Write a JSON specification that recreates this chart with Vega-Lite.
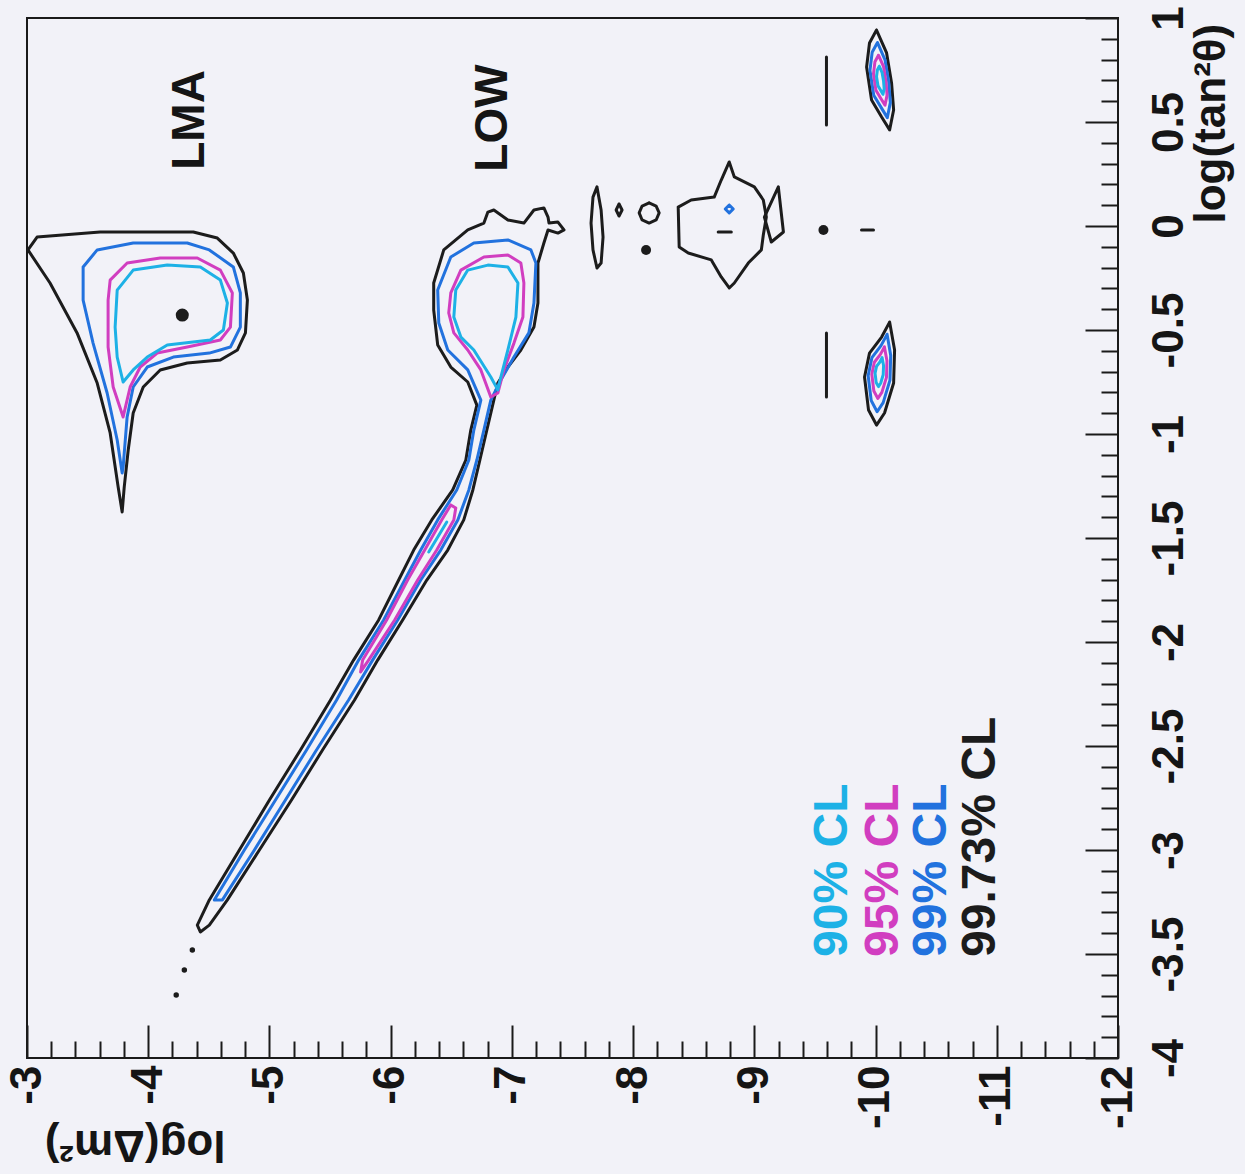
{
"$schema": "https://vega.github.io/schema/vega-lite/v6.json",
"width": 1091, "height": 1040,
"autosize": {"type": "none"},
"padding": {"left": 27, "top": 18, "right": 127, "bottom": 116},
"background": "#F2F2F8",
"config": {"view": {"stroke": "#1a1a1a", "strokeWidth": 2, "fill": "#F2F2F8"}},
"datasets": {
"c": [
{"id":"lma4","lv":"99.73","o":0,"m":-3.008,"t":-0.115},{"id":"lma4","lv":"99.73","o":1,"m":-3.083,"t":-0.053},{"id":"lma4","lv":"99.73","o":2,"m":-3.603,"t":-0.029},{"id":"lma4","lv":"99.73","o":3,"m":-4.372,"t":-0.029},{"id":"lma4","lv":"99.73","o":4,"m":-4.570,"t":-0.058},{"id":"lma4","lv":"99.73","o":5,"m":-4.702,"t":-0.130},{"id":"lma4","lv":"99.73","o":6,"m":-4.785,"t":-0.226},{"id":"lma4","lv":"99.73","o":7,"m":-4.818,"t":-0.356},{"id":"lma4","lv":"99.73","o":8,"m":-4.802,"t":-0.514},{"id":"lma4","lv":"99.73","o":9,"m":-4.736,"t":-0.596},{"id":"lma4","lv":"99.73","o":10,"m":-4.595,"t":-0.644},{"id":"lma4","lv":"99.73","o":11,"m":-4.322,"t":-0.659},{"id":"lma4","lv":"99.73","o":12,"m":-4.099,"t":-0.692},{"id":"lma4","lv":"99.73","o":13,"m":-3.959,"t":-0.774},{"id":"lma4","lv":"99.73","o":14,"m":-3.876,"t":-0.899},{"id":"lma4","lv":"99.73","o":15,"m":-3.835,"t":-1.077},{"id":"lma4","lv":"99.73","o":16,"m":-3.802,"t":-1.255},{"id":"lma4","lv":"99.73","o":17,"m":-3.785,"t":-1.375},{"id":"lma4","lv":"99.73","o":18,"m":-3.752,"t":-1.255},{"id":"lma4","lv":"99.73","o":19,"m":-3.686,"t":-0.995},{"id":"lma4","lv":"99.73","o":20,"m":-3.579,"t":-0.755},{"id":"lma4","lv":"99.73","o":21,"m":-3.413,"t":-0.514},{"id":"lma4","lv":"99.73","o":22,"m":-3.190,"t":-0.274},{"id":"lma4","lv":"99.73","o":23,"m":-3.008,"t":-0.115},
{"id":"lma3","lv":"99","o":0,"m":-3.463,"t":-0.197},{"id":"lma3","lv":"99","o":1,"m":-3.579,"t":-0.115},{"id":"lma3","lv":"99","o":2,"m":-3.876,"t":-0.082},{"id":"lma3","lv":"99","o":3,"m":-4.322,"t":-0.082},{"id":"lma3","lv":"99","o":4,"m":-4.504,"t":-0.115},{"id":"lma3","lv":"99","o":5,"m":-4.702,"t":-0.197},{"id":"lma3","lv":"99","o":6,"m":-4.760,"t":-0.322},{"id":"lma3","lv":"99","o":7,"m":-4.760,"t":-0.486},{"id":"lma3","lv":"99","o":8,"m":-4.678,"t":-0.582},{"id":"lma3","lv":"99","o":9,"m":-4.504,"t":-0.611},{"id":"lma3","lv":"99","o":10,"m":-4.207,"t":-0.630},{"id":"lma3","lv":"99","o":11,"m":-3.992,"t":-0.678},{"id":"lma3","lv":"99","o":12,"m":-3.876,"t":-0.774},{"id":"lma3","lv":"99","o":13,"m":-3.826,"t":-0.918},{"id":"lma3","lv":"99","o":14,"m":-3.793,"t":-1.159},{"id":"lma3","lv":"99","o":15,"m":-3.785,"t":-1.188},{"id":"lma3","lv":"99","o":16,"m":-3.744,"t":-1.029},{"id":"lma3","lv":"99","o":17,"m":-3.661,"t":-0.803},{"id":"lma3","lv":"99","o":18,"m":-3.545,"t":-0.563},{"id":"lma3","lv":"99","o":19,"m":-3.463,"t":-0.356},{"id":"lma3","lv":"99","o":20,"m":-3.463,"t":-0.197},
{"id":"lma2","lv":"95","o":0,"m":-3.686,"t":-0.260},{"id":"lma2","lv":"95","o":1,"m":-3.826,"t":-0.178},{"id":"lma2","lv":"95","o":2,"m":-4.099,"t":-0.154},{"id":"lma2","lv":"95","o":3,"m":-4.405,"t":-0.154},{"id":"lma2","lv":"95","o":4,"m":-4.595,"t":-0.212},{"id":"lma2","lv":"95","o":5,"m":-4.694,"t":-0.322},{"id":"lma2","lv":"95","o":6,"m":-4.678,"t":-0.486},{"id":"lma2","lv":"95","o":7,"m":-4.595,"t":-0.548},{"id":"lma2","lv":"95","o":8,"m":-4.322,"t":-0.582},{"id":"lma2","lv":"95","o":9,"m":-4.074,"t":-0.611},{"id":"lma2","lv":"95","o":10,"m":-3.934,"t":-0.678},{"id":"lma2","lv":"95","o":11,"m":-3.851,"t":-0.774},{"id":"lma2","lv":"95","o":12,"m":-3.793,"t":-0.918},{"id":"lma2","lv":"95","o":13,"m":-3.711,"t":-0.774},{"id":"lma2","lv":"95","o":14,"m":-3.669,"t":-0.582},{"id":"lma2","lv":"95","o":15,"m":-3.669,"t":-0.356},{"id":"lma2","lv":"95","o":16,"m":-3.686,"t":-0.260},
{"id":"lma1","lv":"90","o":0,"m":-3.744,"t":-0.308},{"id":"lma1","lv":"90","o":1,"m":-3.876,"t":-0.212},{"id":"lma1","lv":"90","o":2,"m":-4.157,"t":-0.188},{"id":"lma1","lv":"90","o":3,"m":-4.430,"t":-0.197},{"id":"lma1","lv":"90","o":4,"m":-4.595,"t":-0.260},{"id":"lma1","lv":"90","o":5,"m":-4.653,"t":-0.370},{"id":"lma1","lv":"90","o":6,"m":-4.620,"t":-0.500},{"id":"lma1","lv":"90","o":7,"m":-4.512,"t":-0.548},{"id":"lma1","lv":"90","o":8,"m":-4.157,"t":-0.572},{"id":"lma1","lv":"90","o":9,"m":-3.992,"t":-0.630},{"id":"lma1","lv":"90","o":10,"m":-3.876,"t":-0.692},{"id":"lma1","lv":"90","o":11,"m":-3.793,"t":-0.750},{"id":"lma1","lv":"90","o":12,"m":-3.744,"t":-0.630},{"id":"lma1","lv":"90","o":13,"m":-3.727,"t":-0.486},{"id":"lma1","lv":"90","o":14,"m":-3.744,"t":-0.308},
{"id":"low4","lv":"99.73","o":0,"m":-6.355,"t":-0.274},{"id":"low4","lv":"99.73","o":1,"m":-6.438,"t":-0.115},{"id":"low4","lv":"99.73","o":2,"m":-6.636,"t":-0.019},{"id":"low4","lv":"99.73","o":3,"m":-6.769,"t":0.014},{"id":"low4","lv":"99.73","o":4,"m":-6.802,"t":0.067},{"id":"low4","lv":"99.73","o":5,"m":-6.851,"t":0.077},{"id":"low4","lv":"99.73","o":6,"m":-6.967,"t":0.029},{"id":"low4","lv":"99.73","o":7,"m":-7.099,"t":0.014},{"id":"low4","lv":"99.73","o":8,"m":-7.182,"t":0.077},{"id":"low4","lv":"99.73","o":9,"m":-7.264,"t":0.087},{"id":"low4","lv":"99.73","o":10,"m":-7.298,"t":0.043},{"id":"low4","lv":"99.73","o":11,"m":-7.306,"t":0.014},{"id":"low4","lv":"99.73","o":12,"m":-7.380,"t":0.019},{"id":"low4","lv":"99.73","o":13,"m":-7.430,"t":-0.019},{"id":"low4","lv":"99.73","o":14,"m":-7.380,"t":-0.034},{"id":"low4","lv":"99.73","o":15,"m":-7.298,"t":-0.019},{"id":"low4","lv":"99.73","o":16,"m":-7.264,"t":-0.082},{"id":"low4","lv":"99.73","o":17,"m":-7.215,"t":-0.178},{"id":"low4","lv":"99.73","o":18,"m":-7.215,"t":-0.370},{"id":"low4","lv":"99.73","o":19,"m":-7.182,"t":-0.486},{"id":"low4","lv":"99.73","o":20,"m":-7.074,"t":-0.596},{"id":"low4","lv":"99.73","o":21,"m":-6.967,"t":-0.678},{"id":"low4","lv":"99.73","o":22,"m":-6.884,"t":-0.755},{"id":"low4","lv":"99.73","o":23,"m":-6.851,"t":-0.837},{"id":"low4","lv":"99.73","o":24,"m":-6.793,"t":-0.981},{"id":"low4","lv":"99.73","o":25,"m":-6.736,"t":-1.125},{"id":"low4","lv":"99.73","o":26,"m":-6.678,"t":-1.269},{"id":"low4","lv":"99.73","o":27,"m":-6.603,"t":-1.413},{"id":"low4","lv":"99.73","o":28,"m":-6.471,"t":-1.558},{"id":"low4","lv":"99.73","o":29,"m":-6.298,"t":-1.702},{"id":"low4","lv":"99.73","o":30,"m":-6.099,"t":-1.894},{"id":"low4","lv":"99.73","o":31,"m":-5.893,"t":-2.087},{"id":"low4","lv":"99.73","o":32,"m":-5.702,"t":-2.279},{"id":"low4","lv":"99.73","o":33,"m":-5.438,"t":-2.519},{"id":"low4","lv":"99.73","o":34,"m":-5.182,"t":-2.760},{"id":"low4","lv":"99.73","o":35,"m":-4.917,"t":-3.000},{"id":"low4","lv":"99.73","o":36,"m":-4.653,"t":-3.240},{"id":"low4","lv":"99.73","o":37,"m":-4.504,"t":-3.361},{"id":"low4","lv":"99.73","o":38,"m":-4.430,"t":-3.394},{"id":"low4","lv":"99.73","o":39,"m":-4.405,"t":-3.361},{"id":"low4","lv":"99.73","o":40,"m":-4.504,"t":-3.240},{"id":"low4","lv":"99.73","o":41,"m":-4.752,"t":-3.000},{"id":"low4","lv":"99.73","o":42,"m":-5.000,"t":-2.760},{"id":"low4","lv":"99.73","o":43,"m":-5.256,"t":-2.519},{"id":"low4","lv":"99.73","o":44,"m":-5.504,"t":-2.279},{"id":"low4","lv":"99.73","o":45,"m":-5.694,"t":-2.087},{"id":"low4","lv":"99.73","o":46,"m":-5.901,"t":-1.894},{"id":"low4","lv":"99.73","o":47,"m":-6.066,"t":-1.702},{"id":"low4","lv":"99.73","o":48,"m":-6.190,"t":-1.558},{"id":"low4","lv":"99.73","o":49,"m":-6.339,"t":-1.413},{"id":"low4","lv":"99.73","o":50,"m":-6.512,"t":-1.269},{"id":"low4","lv":"99.73","o":51,"m":-6.620,"t":-1.125},{"id":"low4","lv":"99.73","o":52,"m":-6.661,"t":-0.981},{"id":"low4","lv":"99.73","o":53,"m":-6.711,"t":-0.861},{"id":"low4","lv":"99.73","o":54,"m":-6.636,"t":-0.750},{"id":"low4","lv":"99.73","o":55,"m":-6.496,"t":-0.678},{"id":"low4","lv":"99.73","o":56,"m":-6.388,"t":-0.572},{"id":"low4","lv":"99.73","o":57,"m":-6.355,"t":-0.404},{"id":"low4","lv":"99.73","o":58,"m":-6.355,"t":-0.274},
{"id":"low3","lv":"99","o":0,"m":-6.388,"t":-0.308},{"id":"low3","lv":"99","o":1,"m":-6.496,"t":-0.149},{"id":"low3","lv":"99","o":2,"m":-6.686,"t":-0.082},{"id":"low3","lv":"99","o":3,"m":-6.967,"t":-0.067},{"id":"low3","lv":"99","o":4,"m":-7.157,"t":-0.115},{"id":"low3","lv":"99","o":5,"m":-7.198,"t":-0.178},{"id":"low3","lv":"99","o":6,"m":-7.182,"t":-0.370},{"id":"low3","lv":"99","o":7,"m":-7.140,"t":-0.514},{"id":"low3","lv":"99","o":8,"m":-7.017,"t":-0.630},{"id":"low3","lv":"99","o":9,"m":-6.909,"t":-0.740},{"id":"low3","lv":"99","o":10,"m":-6.826,"t":-0.837},{"id":"low3","lv":"99","o":11,"m":-6.769,"t":-0.981},{"id":"low3","lv":"99","o":12,"m":-6.711,"t":-1.125},{"id":"low3","lv":"99","o":13,"m":-6.645,"t":-1.269},{"id":"low3","lv":"99","o":14,"m":-6.554,"t":-1.413},{"id":"low3","lv":"99","o":15,"m":-6.413,"t":-1.558},{"id":"low3","lv":"99","o":16,"m":-6.248,"t":-1.702},{"id":"low3","lv":"99","o":17,"m":-6.058,"t":-1.894},{"id":"low3","lv":"99","o":18,"m":-5.851,"t":-2.087},{"id":"low3","lv":"99","o":19,"m":-5.653,"t":-2.279},{"id":"low3","lv":"99","o":20,"m":-5.388,"t":-2.519},{"id":"low3","lv":"99","o":21,"m":-5.132,"t":-2.760},{"id":"low3","lv":"99","o":22,"m":-4.876,"t":-3.000},{"id":"low3","lv":"99","o":23,"m":-4.612,"t":-3.240},{"id":"low3","lv":"99","o":24,"m":-4.545,"t":-3.240},{"id":"low3","lv":"99","o":25,"m":-4.793,"t":-3.000},{"id":"low3","lv":"99","o":26,"m":-5.050,"t":-2.760},{"id":"low3","lv":"99","o":27,"m":-5.306,"t":-2.519},{"id":"low3","lv":"99","o":28,"m":-5.554,"t":-2.279},{"id":"low3","lv":"99","o":29,"m":-5.736,"t":-2.087},{"id":"low3","lv":"99","o":30,"m":-5.942,"t":-1.894},{"id":"low3","lv":"99","o":31,"m":-6.116,"t":-1.702},{"id":"low3","lv":"99","o":32,"m":-6.248,"t":-1.558},{"id":"low3","lv":"99","o":33,"m":-6.388,"t":-1.413},{"id":"low3","lv":"99","o":34,"m":-6.545,"t":-1.269},{"id":"low3","lv":"99","o":35,"m":-6.645,"t":-1.125},{"id":"low3","lv":"99","o":36,"m":-6.686,"t":-0.981},{"id":"low3","lv":"99","o":37,"m":-6.744,"t":-0.837},{"id":"low3","lv":"99","o":38,"m":-6.636,"t":-0.692},{"id":"low3","lv":"99","o":39,"m":-6.471,"t":-0.596},{"id":"low3","lv":"99","o":40,"m":-6.397,"t":-0.466},{"id":"low3","lv":"99","o":41,"m":-6.388,"t":-0.308},
{"id":"low2","lv":"95","o":0,"m":-6.496,"t":-0.322},{"id":"low2","lv":"95","o":1,"m":-6.579,"t":-0.212},{"id":"low2","lv":"95","o":2,"m":-6.769,"t":-0.149},{"id":"low2","lv":"95","o":3,"m":-6.967,"t":-0.139},{"id":"low2","lv":"95","o":4,"m":-7.074,"t":-0.178},{"id":"low2","lv":"95","o":5,"m":-7.099,"t":-0.274},{"id":"low2","lv":"95","o":6,"m":-7.091,"t":-0.438},{"id":"low2","lv":"95","o":7,"m":-7.017,"t":-0.563},{"id":"low2","lv":"95","o":8,"m":-6.934,"t":-0.692},{"id":"low2","lv":"95","o":9,"m":-6.884,"t":-0.803},{"id":"low2","lv":"95","o":10,"m":-6.826,"t":-0.822},{"id":"low2","lv":"95","o":11,"m":-6.744,"t":-0.692},{"id":"low2","lv":"95","o":12,"m":-6.636,"t":-0.596},{"id":"low2","lv":"95","o":13,"m":-6.521,"t":-0.514},{"id":"low2","lv":"95","o":14,"m":-6.479,"t":-0.418},{"id":"low2","lv":"95","o":15,"m":-6.496,"t":-0.322},
{"id":"lowb2","lv":"95","o":0,"m":-6.537,"t":-1.356},{"id":"lowb2","lv":"95","o":1,"m":-6.521,"t":-1.413},{"id":"lowb2","lv":"95","o":2,"m":-6.380,"t":-1.558},{"id":"lowb2","lv":"95","o":3,"m":-6.223,"t":-1.702},{"id":"lowb2","lv":"95","o":4,"m":-6.033,"t":-1.894},{"id":"lowb2","lv":"95","o":5,"m":-5.818,"t":-2.087},{"id":"lowb2","lv":"95","o":6,"m":-5.752,"t":-2.144},{"id":"lowb2","lv":"95","o":7,"m":-5.769,"t":-2.087},{"id":"lowb2","lv":"95","o":8,"m":-5.967,"t":-1.894},{"id":"lowb2","lv":"95","o":9,"m":-6.140,"t":-1.702},{"id":"lowb2","lv":"95","o":10,"m":-6.281,"t":-1.558},{"id":"lowb2","lv":"95","o":11,"m":-6.421,"t":-1.413},{"id":"lowb2","lv":"95","o":12,"m":-6.496,"t":-1.341},{"id":"lowb2","lv":"95","o":13,"m":-6.537,"t":-1.356},
{"id":"low1","lv":"90","o":0,"m":-6.537,"t":-0.308},{"id":"low1","lv":"90","o":1,"m":-6.636,"t":-0.212},{"id":"low1","lv":"90","o":2,"m":-6.802,"t":-0.188},{"id":"low1","lv":"90","o":3,"m":-6.967,"t":-0.197},{"id":"low1","lv":"90","o":4,"m":-7.050,"t":-0.274},{"id":"low1","lv":"90","o":5,"m":-7.033,"t":-0.438},{"id":"low1","lv":"90","o":6,"m":-6.967,"t":-0.596},{"id":"low1","lv":"90","o":7,"m":-6.909,"t":-0.726},{"id":"low1","lv":"90","o":8,"m":-6.884,"t":-0.788},{"id":"low1","lv":"90","o":9,"m":-6.826,"t":-0.726},{"id":"low1","lv":"90","o":10,"m":-6.686,"t":-0.596},{"id":"low1","lv":"90","o":11,"m":-6.579,"t":-0.534},{"id":"low1","lv":"90","o":12,"m":-6.521,"t":-0.438},{"id":"low1","lv":"90","o":13,"m":-6.537,"t":-0.308},
{"id":"lowc","lv":"90","o":0,"m":-6.463,"t":-1.423},{"id":"lowc","lv":"90","o":1,"m":-6.314,"t":-1.567},
{"id":"is1","lv":"99.73","o":0,"m":-7.702,"t":0.188},{"id":"is1","lv":"99.73","o":1,"m":-7.736,"t":0.077},{"id":"is1","lv":"99.73","o":2,"m":-7.752,"t":-0.053},{"id":"is1","lv":"99.73","o":3,"m":-7.736,"t":-0.178},{"id":"is1","lv":"99.73","o":4,"m":-7.702,"t":-0.202},{"id":"is1","lv":"99.73","o":5,"m":-7.669,"t":-0.115},{"id":"is1","lv":"99.73","o":6,"m":-7.653,"t":0.014},{"id":"is1","lv":"99.73","o":7,"m":-7.669,"t":0.139},{"id":"is1","lv":"99.73","o":8,"m":-7.702,"t":0.188},
{"id":"is2","lv":"99.73","o":0,"m":-7.884,"t":0.106},{"id":"is2","lv":"99.73","o":1,"m":-7.909,"t":0.077},{"id":"is2","lv":"99.73","o":2,"m":-7.884,"t":0.048},{"id":"is2","lv":"99.73","o":3,"m":-7.860,"t":0.077},{"id":"is2","lv":"99.73","o":4,"m":-7.884,"t":0.106},
{"id":"is3","lv":"99.73","o":0,"m":-8.132,"t":0.111},{"id":"is3","lv":"99.73","o":1,"m":-8.190,"t":0.096},{"id":"is3","lv":"99.73","o":2,"m":-8.215,"t":0.063},{"id":"is3","lv":"99.73","o":3,"m":-8.190,"t":0.029},{"id":"is3","lv":"99.73","o":4,"m":-8.132,"t":0.014},{"id":"is3","lv":"99.73","o":5,"m":-8.074,"t":0.029},{"id":"is3","lv":"99.73","o":6,"m":-8.050,"t":0.063},{"id":"is3","lv":"99.73","o":7,"m":-8.074,"t":0.096},{"id":"is3","lv":"99.73","o":8,"m":-8.132,"t":0.111},
{"id":"blob","lv":"99.73","o":0,"m":-8.372,"t":0.091},{"id":"blob","lv":"99.73","o":1,"m":-8.479,"t":0.125},{"id":"blob","lv":"99.73","o":2,"m":-8.669,"t":0.139},{"id":"blob","lv":"99.73","o":3,"m":-8.727,"t":0.221},{"id":"blob","lv":"99.73","o":4,"m":-8.793,"t":0.308},{"id":"blob","lv":"99.73","o":5,"m":-8.835,"t":0.236},{"id":"blob","lv":"99.73","o":6,"m":-9.000,"t":0.188},{"id":"blob","lv":"99.73","o":7,"m":-9.074,"t":0.125},{"id":"blob","lv":"99.73","o":8,"m":-9.099,"t":0.043},{"id":"blob","lv":"99.73","o":9,"m":-9.074,"t":-0.043},{"id":"blob","lv":"99.73","o":10,"m":-9.058,"t":-0.115},{"id":"blob","lv":"99.73","o":11,"m":-8.950,"t":-0.178},{"id":"blob","lv":"99.73","o":12,"m":-8.835,"t":-0.274},{"id":"blob","lv":"99.73","o":13,"m":-8.793,"t":-0.298},{"id":"blob","lv":"99.73","o":14,"m":-8.727,"t":-0.245},{"id":"blob","lv":"99.73","o":15,"m":-8.645,"t":-0.163},{"id":"blob","lv":"99.73","o":16,"m":-8.455,"t":-0.130},{"id":"blob","lv":"99.73","o":17,"m":-8.380,"t":-0.101},{"id":"blob","lv":"99.73","o":18,"m":-8.372,"t":0.091},
{"id":"tie","lv":"99.73","o":0,"m":-9.198,"t":0.188},{"id":"tie","lv":"99.73","o":1,"m":-9.240,"t":-0.029},{"id":"tie","lv":"99.73","o":2,"m":-9.140,"t":-0.077},{"id":"tie","lv":"99.73","o":3,"m":-9.083,"t":0.043},{"id":"tie","lv":"99.73","o":4,"m":-9.198,"t":0.188},
{"id":"bc","lv":"99","o":0,"m":-8.793,"t":0.101},{"id":"bc","lv":"99","o":1,"m":-8.826,"t":0.082},{"id":"bc","lv":"99","o":2,"m":-8.793,"t":0.063},{"id":"bc","lv":"99","o":3,"m":-8.760,"t":0.082},{"id":"bc","lv":"99","o":4,"m":-8.793,"t":0.101},
{"id":"bd","lv":"99.73","o":0,"m":-8.702,"t":-0.029},{"id":"bd","lv":"99.73","o":1,"m":-8.810,"t":-0.029},
{"id":"vl1","lv":"99.73","o":0,"m":-9.595,"t":0.813},{"id":"vl1","lv":"99.73","o":1,"m":-9.595,"t":0.486},
{"id":"vl2","lv":"99.73","o":0,"m":-9.595,"t":-0.514},{"id":"vl2","lv":"99.73","o":1,"m":-9.595,"t":-0.822},
{"id":"dsh","lv":"99.73","o":0,"m":-9.884,"t":-0.019},{"id":"dsh","lv":"99.73","o":1,"m":-9.983,"t":-0.019},
{"id":"tr4","lv":"99.73","o":0,"m":-10.008,"t":0.942},{"id":"tr4","lv":"99.73","o":1,"m":-10.091,"t":0.832},{"id":"tr4","lv":"99.73","o":2,"m":-10.132,"t":0.688},{"id":"tr4","lv":"99.73","o":3,"m":-10.149,"t":0.558},{"id":"tr4","lv":"99.73","o":4,"m":-10.116,"t":0.462},{"id":"tr4","lv":"99.73","o":5,"m":-10.050,"t":0.524},{"id":"tr4","lv":"99.73","o":6,"m":-9.967,"t":0.606},{"id":"tr4","lv":"99.73","o":7,"m":-9.926,"t":0.764},{"id":"tr4","lv":"99.73","o":8,"m":-9.950,"t":0.880},{"id":"tr4","lv":"99.73","o":9,"m":-10.008,"t":0.942},
{"id":"tr3","lv":"99","o":0,"m":-10.016,"t":0.882},{"id":"tr3","lv":"99","o":1,"m":-10.078,"t":0.799},{"id":"tr3","lv":"99","o":2,"m":-10.109,"t":0.691},{"id":"tr3","lv":"99","o":3,"m":-10.122,"t":0.593},{"id":"tr3","lv":"99","o":4,"m":-10.097,"t":0.521},{"id":"tr3","lv":"99","o":5,"m":-10.048,"t":0.568},{"id":"tr3","lv":"99","o":6,"m":-9.985,"t":0.629},{"id":"tr3","lv":"99","o":7,"m":-9.954,"t":0.748},{"id":"tr3","lv":"99","o":8,"m":-9.972,"t":0.835},{"id":"tr3","lv":"99","o":9,"m":-10.016,"t":0.882},
{"id":"tr2","lv":"95","o":0,"m":-10.024,"t":0.821},{"id":"tr2","lv":"95","o":1,"m":-10.066,"t":0.766},{"id":"tr2","lv":"95","o":2,"m":-10.086,"t":0.694},{"id":"tr2","lv":"95","o":3,"m":-10.095,"t":0.629},{"id":"tr2","lv":"95","o":4,"m":-10.078,"t":0.581},{"id":"tr2","lv":"95","o":5,"m":-10.045,"t":0.612},{"id":"tr2","lv":"95","o":6,"m":-10.003,"t":0.653},{"id":"tr2","lv":"95","o":7,"m":-9.983,"t":0.732},{"id":"tr2","lv":"95","o":8,"m":-9.995,"t":0.790},{"id":"tr2","lv":"95","o":9,"m":-10.024,"t":0.821},
{"id":"tr1","lv":"90","o":0,"m":-10.031,"t":0.768},{"id":"tr1","lv":"90","o":1,"m":-10.054,"t":0.737},{"id":"tr1","lv":"90","o":2,"m":-10.066,"t":0.697},{"id":"tr1","lv":"90","o":3,"m":-10.071,"t":0.660},{"id":"tr1","lv":"90","o":4,"m":-10.061,"t":0.633},{"id":"tr1","lv":"90","o":5,"m":-10.043,"t":0.651},{"id":"tr1","lv":"90","o":6,"m":-10.020,"t":0.674},{"id":"tr1","lv":"90","o":7,"m":-10.008,"t":0.718},{"id":"tr1","lv":"90","o":8,"m":-10.015,"t":0.750},{"id":"tr1","lv":"90","o":9,"m":-10.031,"t":0.768},
{"id":"br4","lv":"99.73","o":0,"m":-10.116,"t":-0.462},{"id":"br4","lv":"99.73","o":1,"m":-10.157,"t":-0.596},{"id":"br4","lv":"99.73","o":2,"m":-10.149,"t":-0.755},{"id":"br4","lv":"99.73","o":3,"m":-10.074,"t":-0.899},{"id":"br4","lv":"99.73","o":4,"m":-10.008,"t":-0.957},{"id":"br4","lv":"99.73","o":5,"m":-9.942,"t":-0.885},{"id":"br4","lv":"99.73","o":6,"m":-9.909,"t":-0.726},{"id":"br4","lv":"99.73","o":7,"m":-9.950,"t":-0.611},{"id":"br4","lv":"99.73","o":8,"m":-10.050,"t":-0.534},{"id":"br4","lv":"99.73","o":9,"m":-10.116,"t":-0.462},
{"id":"br3","lv":"99","o":0,"m":-10.095,"t":-0.521},{"id":"br3","lv":"99","o":1,"m":-10.125,"t":-0.622},{"id":"br3","lv":"99","o":2,"m":-10.119,"t":-0.741},{"id":"br3","lv":"99","o":3,"m":-10.063,"t":-0.849},{"id":"br3","lv":"99","o":4,"m":-10.013,"t":-0.893},{"id":"br3","lv":"99","o":5,"m":-9.964,"t":-0.839},{"id":"br3","lv":"99","o":6,"m":-9.939,"t":-0.720},{"id":"br3","lv":"99","o":7,"m":-9.970,"t":-0.633},{"id":"br3","lv":"99","o":8,"m":-10.045,"t":-0.575},{"id":"br3","lv":"99","o":9,"m":-10.095,"t":-0.521},
{"id":"br2","lv":"95","o":0,"m":-10.073,"t":-0.581},{"id":"br2","lv":"95","o":1,"m":-10.094,"t":-0.648},{"id":"br2","lv":"95","o":2,"m":-10.090,"t":-0.728},{"id":"br2","lv":"95","o":3,"m":-10.052,"t":-0.800},{"id":"br2","lv":"95","o":4,"m":-10.019,"t":-0.829},{"id":"br2","lv":"95","o":5,"m":-9.986,"t":-0.793},{"id":"br2","lv":"95","o":6,"m":-9.969,"t":-0.713},{"id":"br2","lv":"95","o":7,"m":-9.990,"t":-0.655},{"id":"br2","lv":"95","o":8,"m":-10.040,"t":-0.617},{"id":"br2","lv":"95","o":9,"m":-10.073,"t":-0.581},
{"id":"br1","lv":"90","o":0,"m":-10.054,"t":-0.633},{"id":"br1","lv":"90","o":1,"m":-10.066,"t":-0.671},{"id":"br1","lv":"90","o":2,"m":-10.063,"t":-0.715},{"id":"br1","lv":"90","o":3,"m":-10.042,"t":-0.756},{"id":"br1","lv":"90","o":4,"m":-10.024,"t":-0.772},{"id":"br1","lv":"90","o":5,"m":-10.005,"t":-0.752},{"id":"br1","lv":"90","o":6,"m":-9.996,"t":-0.707},{"id":"br1","lv":"90","o":7,"m":-10.008,"t":-0.675},{"id":"br1","lv":"90","o":8,"m":-10.036,"t":-0.654},{"id":"br1","lv":"90","o":9,"m":-10.054,"t":-0.633}
],
"p": [
{"k":"best","m":-4.281,"t":-0.428},
{"k":"med","m":-8.107,"t":-0.115},
{"k":"med","m":-9.570,"t":-0.019},
{"k":"small","m":-4.364,"t":-3.481},
{"k":"small","m":-4.298,"t":-3.577},
{"k":"small","m":-4.231,"t":-3.697}
],
"lbl": [
{"txt":"LMA","m":-4.347,"t":0.510},
{"txt":"LOW","m":-6.843,"t":0.519}
],
"leg": [
{"txt":"90% CL","lv":"90","m":-9.653,"t":-3.514},
{"txt":"95% CL","lv":"95","m":-10.066,"t":-3.514},
{"txt":"99% CL","lv":"99","m":-10.463,"t":-3.514},
{"txt":"99.73% CL","lv":"99.73","m":-10.868,"t":-3.514}
]
},
"resolve": {"axis": {"x": "independent", "y": "independent"}},
"layer": [
{
"data": {"name": "c"},
"mark": {"type": "line", "strokeWidth": 3, "strokeJoin": "round", "strokeCap": "round", "interpolate": "linear"},
"encoding": {
"x": {"field": "m", "type": "quantitative", "scale": {"domain": [-12, -3], "reverse": true, "nice": false, "zero": false},
"axis": {"orient": "bottom", "values": [-3,-4,-5,-6,-7,-8,-9,-10,-11,-12], "tickSize": -33, "tickWidth": 2, "tickColor": "#1a1a1a", "domain": false, "grid": false,
"labelAngle": 270, "labelAlign": "right", "labelBaseline": "middle", "labelPadding": 40, "labelFont": "Liberation Sans", "labelFontWeight": "bold", "labelFontSize": 44, "labelColor": "#151515", "labelExpr": "'' + datum.value", "labelOverlap": false, "labelFlush": false, "labelBound": false,
"title": "log(Δm²)", "titleFont": "Liberation Sans", "titleFontWeight": "bold", "titleFontSize": 44, "titleColor": "#151515", "titleAngle": 180, "titleAlign": "left", "titleBaseline": "middle", "titleX": 198, "titleY": 85}},
"y": {"field": "t", "type": "quantitative", "scale": {"domain": [-4, 1], "nice": false, "zero": false},
"axis": {"orient": "right", "values": [1,0.5,0,-0.5,-1,-1.5,-2,-2.5,-3,-3.5,-4], "tickSize": -33, "tickWidth": 2, "tickColor": "#1a1a1a", "domain": false, "grid": false,
"labelAngle": 270, "labelAlign": "center", "labelBaseline": "top", "labelPadding": 62, "labelFont": "Liberation Sans", "labelFontWeight": "bold", "labelFontSize": 44, "labelColor": "#151515", "labelExpr": "'' + datum.value", "labelOverlap": false, "labelFlush": false, "labelBound": false,
"title": "log(tan²θ)", "titleFont": "Liberation Sans", "titleFontWeight": "bold", "titleFontSize": 44, "titleColor": "#151515", "titleAngle": 270, "titleAlign": "left", "titleBaseline": "middle", "titleX": 93, "titleY": 205}},
"detail": {"field": "id", "type": "nominal"},
"order": {"field": "o", "type": "quantitative"},
"color": {"field": "lv", "type": "nominal", "scale": {"domain": ["90","95","99","99.73"], "range": ["#1DB1E6","#D13EC0","#2272DE","#1C1C1C"]}, "legend": null}
}
},
{
"data": {"name": "p"},
"mark": {"type": "point", "filled": true, "color": "#1C1C1C", "opacity": 1},
"encoding": {
"x": {"field": "m", "type": "quantitative", "scale": {"domain": [-12, -3], "reverse": true, "nice": false, "zero": false},
"axis": {"orient": "bottom", "values": [-3.2,-3.4,-3.6,-3.8,-4.2,-4.4,-4.6,-4.8,-5.2,-5.4,-5.6,-5.8,-6.2,-6.4,-6.6,-6.8,-7.2,-7.4,-7.6,-7.8,-8.2,-8.4,-8.6,-8.8,-9.2,-9.4,-9.6,-9.8,-10.2,-10.4,-10.6,-10.8,-11.2,-11.4,-11.6,-11.8], "tickSize": -17, "tickWidth": 2, "tickColor": "#1a1a1a", "domain": false, "grid": false, "labels": false, "title": null}},
"y": {"field": "t", "type": "quantitative", "scale": {"domain": [-4, 1], "nice": false, "zero": false},
"axis": {"orient": "right", "values": [0.9,0.8,0.7,0.6,0.4,0.3,0.2,0.1,-0.1,-0.2,-0.3,-0.4,-0.6,-0.7,-0.8,-0.9,-1.1,-1.2,-1.3,-1.4,-1.6,-1.7,-1.8,-1.9,-2.1,-2.2,-2.3,-2.4,-2.6,-2.7,-2.8,-2.9,-3.1,-3.2,-3.3,-3.4,-3.6,-3.7,-3.8,-3.9], "tickSize": -17, "tickWidth": 2, "tickColor": "#1a1a1a", "domain": false, "grid": false, "labels": false, "title": null}},
"size": {"field": "k", "type": "nominal", "scale": {"domain": ["best","med","small"], "range": [170, 30, 14]}, "legend": null}
}
},
{
"data": {"name": "lbl"},
"mark": {"type": "text", "angle": 270, "align": "center", "baseline": "middle", "font": "Liberation Sans", "fontWeight": "bold", "fontSize": 46, "color": "#151515"},
"encoding": {
"x": {"field": "m", "type": "quantitative", "scale": {"domain": [-12, -3], "reverse": true, "nice": false, "zero": false}, "axis": null},
"y": {"field": "t", "type": "quantitative", "scale": {"domain": [-4, 1], "nice": false, "zero": false}, "axis": null},
"text": {"field": "txt"}
}
},
{
"data": {"name": "leg"},
"mark": {"type": "text", "angle": 270, "align": "left", "baseline": "middle", "font": "Liberation Sans", "fontWeight": "bold", "fontSize": 48},
"encoding": {
"x": {"field": "m", "type": "quantitative", "scale": {"domain": [-12, -3], "reverse": true, "nice": false, "zero": false}, "axis": null},
"y": {"field": "t", "type": "quantitative", "scale": {"domain": [-4, 1], "nice": false, "zero": false}, "axis": null},
"text": {"field": "txt"},
"color": {"field": "lv", "type": "nominal", "scale": {"domain": ["90","95","99","99.73"], "range": ["#1DB1E6","#D13EC0","#2272DE","#1C1C1C"]}, "legend": null}
}
}
]
}
